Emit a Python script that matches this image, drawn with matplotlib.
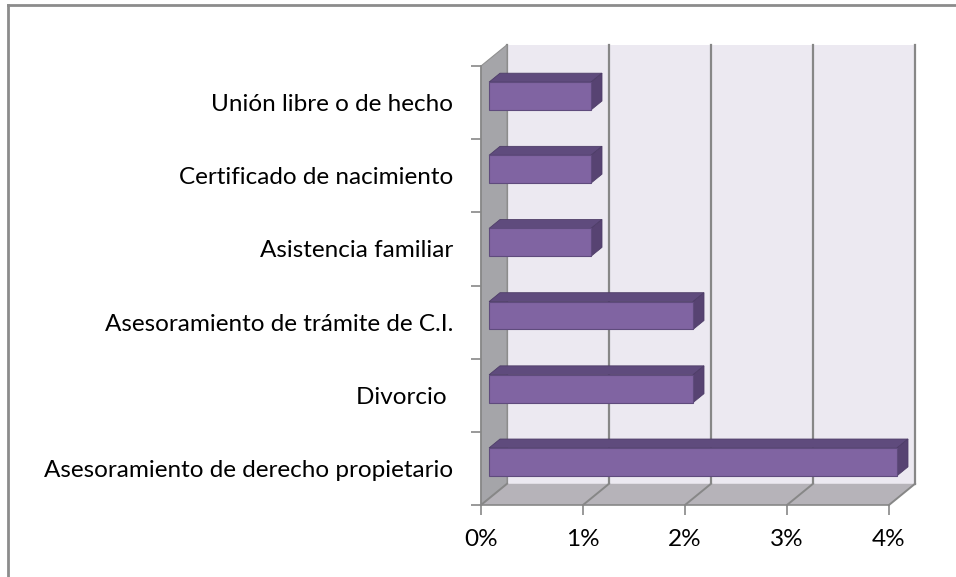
import matplotlib
matplotlib.use("Agg")
import matplotlib.pyplot as plt
from matplotlib.patches import Polygon, Rectangle
from matplotlib.lines import Line2D

# Data (top to bottom as shown in the chart)
categories = [
    "Unión libre o de hecho",
    "Certificado de nacimiento",
    "Asistencia familiar",
    "Asesoramiento de trámite de C.I.",
    "Divorcio ",
    "Asesoramiento de derecho propietario",
]
values = [1, 1, 1, 2, 2, 4]
x_ticks = [0, 1, 2, 3, 4]
x_tick_labels = ["0%", "1%", "2%", "3%", "4%"]

plt.rcParams["font.family"] = ["Lato", "DejaVu Sans"]

# 3D look settings (depth offsets in data units)
DX, DY = 0.255, 0.29
F_FRONT, F_BACK = 0.31, 0.73
BAR_H = 0.38

bar_front = "#8064A2"
bar_top = "#5F4B7D"
bar_side = "#574372"
wall_back = "#ECE9F1"
wall_left = "#A5A5A9"
floor_col = "#B6B3B9"
grid_col = "#878787"

fig = plt.figure(figsize=(9.56, 5.77), dpi=100)
ax = fig.add_axes([481 / 956, 72 / 577, 408 / 956, 439 / 577])

n = len(categories)
xmax = x_ticks[-1]

# back wall
ax.add_patch(Rectangle((DX, DY), xmax, n, facecolor=wall_back, edgecolor="none", clip_on=False, zorder=0))
for t in x_ticks:
    ax.add_line(Line2D([t + DX, t + DX], [DY, n + DY], color=grid_col, lw=1.6, clip_on=False, zorder=1))
# left wall
ax.add_patch(Polygon([(0, 0), (0, n), (DX, n + DY), (DX, DY)], closed=True,
                     facecolor=wall_left, edgecolor="#909090", lw=0.8, clip_on=False, zorder=1))
# floor
ax.add_patch(Polygon([(0, 0), (xmax, 0), (xmax + DX, DY), (DX, DY)], closed=True,
                     facecolor=floor_col, edgecolor="none", clip_on=False, zorder=1))
for t in x_ticks:
    ax.add_line(Line2D([t, t + DX], [0, DY], color=grid_col, lw=1.4, clip_on=False, zorder=2))

# bars
for i, (cat, v) in enumerate(zip(categories, values)):
    c = n - 1 - i + 0.5
    ox1, oy1 = F_FRONT * DX, F_FRONT * DY
    ox2, oy2 = F_BACK * DX, F_BACK * DY
    y0, y1 = c - BAR_H / 2, c + BAR_H / 2
    top = [(ox1, y1 + oy1), (v + ox1, y1 + oy1), (v + ox2, y1 + oy2), (ox2, y1 + oy2)]
    side = [(v + ox1, y0 + oy1), (v + ox1, y1 + oy1), (v + ox2, y1 + oy2), (v + ox2, y0 + oy2)]
    ax.add_patch(Polygon(top, closed=True, facecolor=bar_top, edgecolor="#4E3D68", lw=0.6, clip_on=False, zorder=3))
    ax.add_patch(Polygon(side, closed=True, facecolor=bar_side, edgecolor="#4E3D68", lw=0.6, clip_on=False, zorder=3))
    ax.add_patch(Rectangle((ox1, y0 + oy1), v, BAR_H, facecolor=bar_front, edgecolor="#5F4B7D",
                           lw=0.8, clip_on=False, zorder=4))

ax.set_xlim(0, xmax)
ax.set_ylim(0, n)
ax.patch.set_visible(False)
for s in ["top", "right"]:
    ax.spines[s].set_visible(False)
for s in ["left", "bottom"]:
    ax.spines[s].set_color(grid_col)
    ax.spines[s].set_linewidth(1.2)
    ax.spines[s].set_zorder(5)

ax.set_xticks(x_ticks)
ax.set_xticklabels(x_tick_labels, fontsize=17.5)
ax.tick_params(axis="x", direction="out", length=7, width=1.2, color=grid_col, pad=10)

ax.set_yticks(range(n + 1))
ax.set_yticklabels([])
ax.set_yticks([k + 0.5 for k in range(n)], minor=True)
ax.set_yticklabels(categories[::-1], minor=True, fontsize=17.5)
ax.tick_params(axis="y", which="major", direction="out", length=7, width=1.2, color=grid_col)
ax.tick_params(axis="y", which="minor", length=0, pad=20)

# chart frame (top and left only visible)
fig.add_artist(Line2D([8 / 956, 1], [1 - 5 / 577, 1 - 5 / 577], color="#8C8C8C", lw=2))
fig.add_artist(Line2D([8 / 956, 8 / 956], [0, 1 - 5 / 577], color="#8C8C8C", lw=2))

plt.savefig("out.png", dpi=100)
